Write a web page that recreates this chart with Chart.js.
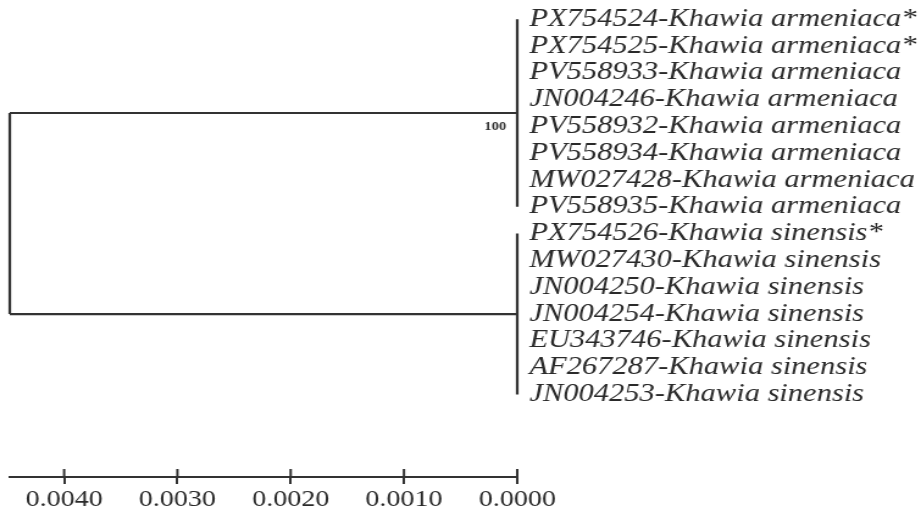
<!DOCTYPE html>
<html>
<head>
<meta charset="utf-8">
<script src="https://cdn.jsdelivr.net/npm/chart.js@4/dist/chart.umd.min.js"></script>
<style>
  html, body { margin: 0; padding: 0; background: #ffffff; overflow: hidden; }
</style>
</head>
<body>
<canvas id="c" width="755" height="517" style="display:block;width:921px;height:517px;"></canvas>
<script>
// ---- data ----
const taxa = [
  "PX754524-Khawia armeniaca*",
  "PX754525-Khawia armeniaca*",
  "PV558933-Khawia armeniaca",
  "JN004246-Khawia armeniaca",
  "PV558932-Khawia armeniaca",
  "PV558934-Khawia armeniaca",
  "MW027428-Khawia armeniaca",
  "PV558935-Khawia armeniaca",
  "PX754526-Khawia sinensis*",
  "MW027430-Khawia sinensis",
  "JN004250-Khawia sinensis",
  "JN004254-Khawia sinensis",
  "EU343746-Khawia sinensis",
  "AF267287-Khawia sinensis",
  "JN004253-Khawia sinensis"
];
const cladeArmeniaca = [0, 1, 2, 3, 4, 5, 6, 7];
const cladeSinensis = [8, 9, 10, 11, 12, 13, 14];
const rootDepth = 0.00448;        // distance from root to the two clade nodes
const tipBranchLengths = 0;       // all terminal branches have length 0
const bootstrapValues = [100];    // support of the armeniaca clade
const scaleTicks = [0.0000, 0.0010, 0.0020, 0.0030, 0.0040];

// ---- build tree segments ----
const mean = a => a.reduce((s, v) => s + v, 0) / a.length;
const yA = mean(cladeArmeniaca);
const yB = mean(cladeSinensis);
const lineColor = '#333333';

function seg(points) {
  return {
    data: points,
    borderColor: lineColor,
    borderWidth: 2.2,
    pointRadius: 0,
    pointHoverRadius: 0,
    showLine: true,
    fill: false,
    tension: 0,
    clip: false
  };
}

const datasets = [
  seg([{x: rootDepth, y: yA}, {x: rootDepth, y: yB}]),
  seg([{x: rootDepth, y: yA}, {x: tipBranchLengths, y: yA}]),
  seg([{x: rootDepth, y: yB}, {x: tipBranchLengths, y: yB}]),
  seg([{x: tipBranchLengths, y: cladeArmeniaca[0]}, {x: tipBranchLengths, y: cladeArmeniaca[cladeArmeniaca.length - 1]}]),
  seg([{x: tipBranchLengths, y: cladeSinensis[0]}, {x: tipBranchLengths, y: cladeSinensis[cladeSinensis.length - 1]}])
];

const treeExtras = {
  id: 'treeExtras',
  afterDraw(chart) {
    const ctx = chart.ctx;
    const xs = chart.scales.x, ys = chart.scales.y;
    ctx.save();
    // upper half of scale-bar ticks
    ctx.strokeStyle = lineColor;
    ctx.lineWidth = 2;
    const yb = chart.chartArea.bottom;
    scaleTicks.forEach(v => {
      const px = xs.getPixelForValue(v);
      ctx.beginPath();
      ctx.moveTo(px, yb - 8);
      ctx.lineTo(px, yb);
      ctx.stroke();
    });
    // bootstrap label
    ctx.fillStyle = '#333';
    ctx.font = 'bold 12px "Liberation Serif", "Times New Roman", serif';
    ctx.textAlign = 'right';
    ctx.textBaseline = 'middle';
    ctx.fillText(String(bootstrapValues[0]), xs.getPixelForValue(tipBranchLengths) - 9, ys.getPixelForValue(yA) + 13.5);
    ctx.restore();
  }
};

new Chart(document.getElementById('c'), {
  type: 'scatter',
  data: { datasets },
  plugins: [treeExtras],
  options: {
    responsive: false,
    devicePixelRatio: 1,
    animation: false,
    events: [],
    layout: { padding: { left: 8, top: 0, right: 0, bottom: 0 } },
    plugins: { legend: { display: false }, tooltip: { enabled: false } },
    scales: {
      x: {
        type: 'linear',
        position: 'bottom',
        reverse: true,
        min: 0,
        max: rootDepth,
        afterBuildTicks: s => { s.ticks = scaleTicks.map(v => ({ value: v })); },
        afterFit: s => { s.height = 40; s.paddingLeft = 0; s.paddingRight = 0; },
        grid: { drawOnChartArea: false, drawTicks: true, tickLength: 7, color: lineColor, lineWidth: 2 },
        border: { display: true, color: lineColor, width: 2 },
        ticks: {
          autoSkip: false,
          maxRotation: 0,
          padding: 2,
          color: '#2a2a2a',
          font: { family: '"Liberation Serif", "Times New Roman", serif', size: 23 },
          callback: v => Number(v).toFixed(4)
        }
      },
      y: {
        type: 'linear',
        position: 'right',
        reverse: true,
        min: -0.716,
        max: 17.08,
        afterBuildTicks: s => { s.ticks = taxa.map((t, i) => ({ value: i })); },
        afterFit: s => { s.width = 331; s.paddingTop = 0; s.paddingBottom = 0; },
        grid: { display: false, drawTicks: false },
        border: { display: false },
        ticks: {
          autoSkip: false,
          padding: 10,
          color: '#2a2a2a',
          font: { family: '"Liberation Serif", "Times New Roman", serif', size: 25, style: 'italic' },
          callback: v => taxa[v]
        }
      }
    }
  }
});
</script>
</body>
</html>
